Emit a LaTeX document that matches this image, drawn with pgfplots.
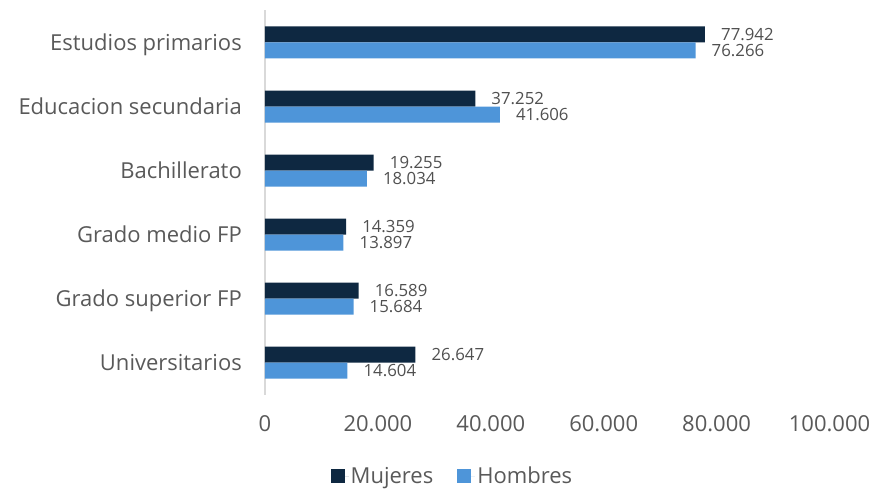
\documentclass[border=0pt]{standalone}
\usepackage{fontspec}
\setmainfont{Open Sans}
\usepackage{pgfplots}
\usepackage{pgfplotstable}
\pgfplotsset{compat=1.18}
\definecolor{muj}{HTML}{0E2841}
\definecolor{hom}{HTML}{4E95D9}
\definecolor{txt}{HTML}{595959}
\definecolor{axln}{HTML}{D9D9D9}

% y: 5 = Estudios primarios (top) ... 0 = Universitarios
\pgfplotstableread{
y val lab
5 77942 77.942
4 37252 37.252
3 19255 19.255
2 14359 14.359
1 16589 16.589
0 26647 26.647
}\mujeres
\pgfplotstableread{
y val lab
5 76266 76.266
4 41606 41.606
3 18034 18.034
2 13897 13.897
1 15684 15.684
0 14604 14.604
}\hombres

\begin{document}
\begin{tikzpicture}
\useasboundingbox (0,0) rectangle (873pt,488pt);
\begin{axis}[
  at={(265pt,93.5pt)}, anchor=south west,
  scale only axis, width=564.5pt, height=384pt,
  xmin=0, xmax=100000, ymin=-0.5, ymax=5.5,
  xbar, bar width=16pt,
  axis lines*=left,
  x axis line style={draw=none},
  y axis line style={draw=axln, line width=1.5pt},
  scaled x ticks=false,
  xtick={0,20000,40000,60000,80000,100000},
  xticklabels={0,20.000,40.000,60.000,80.000,100.000},
  ytick={0,1,2,3,4,5},
  yticklabels={Universitarios,Grado superior FP,Grado medio FP,Bachillerato,Educacion secundaria,Estudios primarios},
  major tick length=0pt,
  /pgf/number format/assume math mode=true,
  ticklabel style={font=\fontsize{22pt}{26pt}\selectfont, text=txt, inner sep=0pt},
  xticklabel style={anchor=base, yshift=-37pt},
  yticklabel style={anchor=base east, xshift=-23pt, yshift=-7.8pt},
  point meta=explicit symbolic,
  nodes near coords={\pgfplotspointmeta},
  nodes near coords style={font=\fontsize{16.8pt}{20pt}\selectfont, text=txt!90!black, anchor=west, inner sep=0pt, xshift=16pt},
  legend columns=2,
  legend style={at={(0.332,-0.2122)}, anchor=center, draw=none, fill=none,
    font=\fontsize{22pt}{26pt}\selectfont, text=txt,
    /tikz/every even column/.append style={column sep=22pt}},
  legend image code/.code={\path (0pt,0pt) rectangle (18pt,0pt);\fill[#1] (0pt,-7pt) rectangle (14pt,7pt);},
]
\addplot[fill=muj, draw=none, bar shift=8pt] table[x=val, y=y, meta=lab] {\mujeres};
\addplot[fill=hom, draw=none, bar shift=-8pt] table[x=val, y=y, meta=lab] {\hombres};
\legend{Mujeres, Hombres}
\end{axis}
\end{tikzpicture}
\end{document}
